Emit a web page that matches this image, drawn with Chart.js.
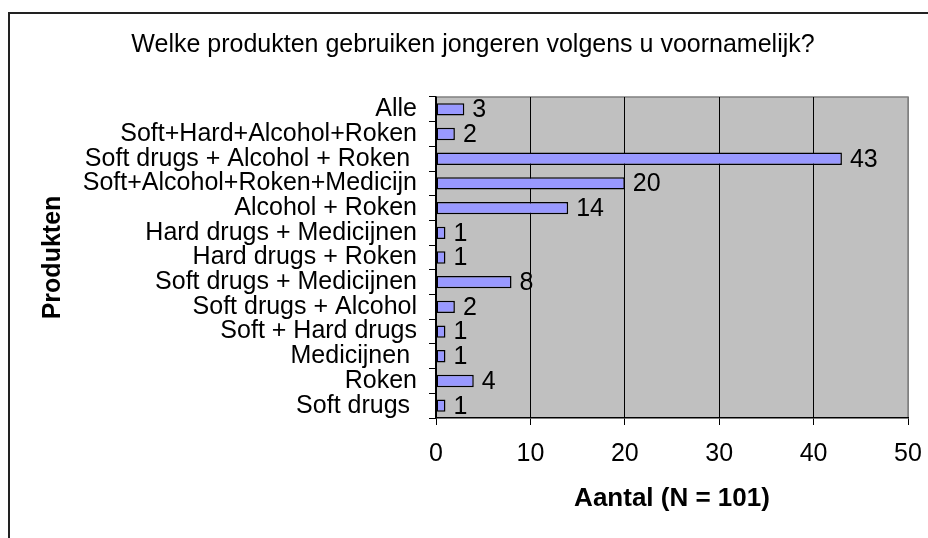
<!DOCTYPE html>
<html>
<head>
<meta charset="utf-8">
<script src="https://cdn.jsdelivr.net/npm/chart.js@4/dist/chart.umd.min.js"></script>
<style>
  html, body { margin: 0; padding: 0; background: #fff; }
  #wrap { width: 928px; height: 538px; }
</style>
</head>
<body>
<div id="wrap"><canvas id="chart" width="928" height="538"></canvas></div>
<script>
const categories = [
  "Alle",
  "Soft+Hard+Alcohol+Roken",
  "Soft drugs + Alcohol + Roken ",
  "Soft+Alcohol+Roken+Medicijn",
  "Alcohol + Roken",
  "Hard drugs + Medicijnen",
  "Hard drugs + Roken",
  "Soft drugs + Medicijnen",
  "Soft drugs + Alcohol",
  "Soft + Hard drugs",
  "Medicijnen ",
  "Roken",
  "Soft drugs "
];
const aantal = [3, 2, 43, 20, 14, 1, 1, 8, 2, 1, 1, 4, 1];
const xTicks = [0, 10, 20, 30, 40, 50];

const FONT = "'Liberation Sans', Arial, sans-serif";

// grey plot background + frame around the whole thing
const backdrop = {
  id: "backdrop",
  beforeDraw(chart) {
    const { ctx, chartArea: a } = chart;
    ctx.save();
    ctx.fillStyle = "#fff";
    ctx.fillRect(0, 0, chart.width, chart.height);
    ctx.strokeStyle = "#222";
    ctx.lineWidth = 2;
    ctx.beginPath();
    ctx.moveTo(9, chart.height);
    ctx.lineTo(9, 13);
    ctx.lineTo(chart.width, 13);
    ctx.stroke();
    ctx.fillStyle = "#C0C0C0";
    ctx.fillRect(a.left, a.top, a.right - a.left, a.bottom - a.top);
    ctx.strokeStyle = "#808080";
    ctx.lineWidth = 1.5;
    ctx.beginPath();
    ctx.moveTo(a.left, a.top);
    ctx.lineTo(a.right, a.top);
    ctx.lineTo(a.right, a.bottom);
    ctx.stroke();
    ctx.restore();
  }
};

// value labels right of each bar
const valueLabels = {
  id: "valueLabels",
  afterDatasetsDraw(chart) {
    const { ctx } = chart;
    const meta = chart.getDatasetMeta(0);
    ctx.save();
    ctx.font = "25px " + FONT;
    ctx.fillStyle = "#000";
    ctx.textAlign = "left";
    ctx.textBaseline = "middle";
    meta.data.forEach((bar, i) => {
      ctx.fillText(String(aantal[i]), bar.x + 8, bar.y + 1);
    });
    ctx.restore();
  }
};

new Chart(document.getElementById("chart"), {
  type: "bar",
  data: {
    labels: categories,
    datasets: [{
      data: aantal,
      backgroundColor: "#9999FF",
      borderColor: "#000",
      borderWidth: 1.5,
      borderSkipped: false,
      categoryPercentage: 1,
      barPercentage: 0.5
    }]
  },
  options: {
    indexAxis: "y",
    responsive: false,
    animation: false,
    layout: { padding: { left: 38, right: 20, top: 0, bottom: 24 } },
    plugins: {
      legend: { display: false },
      tooltip: { enabled: false },
      title: {
        display: true,
        text: "Welke produkten gebruiken jongeren volgens u voornamelijk?",
        color: "#000",
        font: { family: FONT, size: 25, weight: "normal" },
        padding: { top: 30, bottom: 37 }
      }
    },
    scales: {
      x: {
        min: 0,
        max: 50,
        afterBuildTicks(scale) { scale.ticks = xTicks.map(v => ({ value: v })); },
        afterFit(scale) {
          scale.height = 96;
          scale.paddingLeft = 0;
          scale.paddingRight = 0;
        },
        border: { display: true, color: "#000", width: 1.5 },
        grid: {
          color: c => (c.tick && c.tick.value === 50 ? "#808080" : "#000"),
          tickColor: "#000",
          tickLength: 7,
          lineWidth: 1
        },
        ticks: {
          color: "#000",
          font: { family: FONT, size: 25 },
          padding: 14,
          maxRotation: 0
        },
        title: {
          display: true,
          text: "Aantal (N = 101)",
          color: "#000",
          font: { family: FONT, size: 26, weight: "bold" },
          padding: 0
        }
      },
      y: {
        afterFit(scale) { scale.width = 398; },
        border: { display: true, color: "#000", width: 1.5 },
        grid: {
          drawOnChartArea: false,
          offset: true,
          tickColor: "#000",
          tickLength: 7
        },
        ticks: {
          color: "#000",
          font: { family: FONT, size: 25 },
          padding: 12,
          autoSkip: false
        },
        title: {
          display: true,
          text: "Produkten",
          color: "#000",
          font: { family: FONT, size: 25, weight: "bold" },
          padding: 0
        }
      }
    }
  },
  plugins: [backdrop, valueLabels]
});
</script>
</body>
</html>
